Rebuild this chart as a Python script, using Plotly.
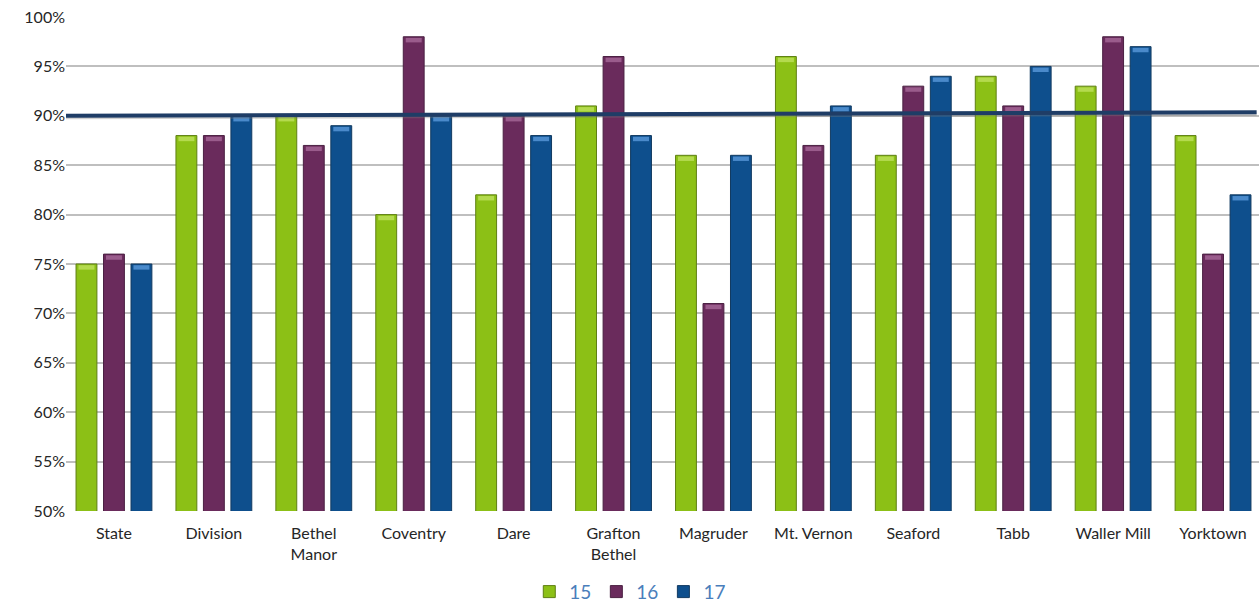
import plotly.graph_objects as go

schools = ["State", "Division", "Bethel<br>Manor", "Coventry", "Dare", "Grafton<br>Bethel",
           "Magruder", "Mt. Vernon", "Seaford", "Tabb", "Waller Mill", "Yorktown"]
year15 = [75, 88, 90, 80, 82, 91, 86, 96, 86, 94, 93, 88]
year16 = [76, 88, 87, 98, 90, 96, 71, 87, 93, 91, 98, 76]
year17 = [75, 90, 89, 90, 88, 88, 86, 91, 94, 95, 97, 82]
series_names = ["15", "16", "17"]
target_start, target_end = 90.0, 90.35
y_ticks = list(range(50, 101, 5))

fills = ["#8CC016", "#6A2B5C", "#0E4F8D"]
edges = ["#5F7F14", "#4A2042", "#123A60"]
caps = ["#B4DA4E", "#9A5C8C", "#4A8ACB"]
cap_height = 0.45

fig = go.Figure()
for i, (name, vals, fc, ec, cc) in enumerate(zip(series_names, [year15, year16, year17],
                                                  fills, edges, caps)):
    group = f"g{i}"
    fig.add_trace(go.Bar(
        x=schools, y=vals, name=name, offsetgroup=group,
        marker=dict(color=fc, line=dict(color=ec, width=1)),
        hoverinfo="skip",
    ))
    # lighter bevel band along the top of each bar
    fig.add_trace(go.Bar(
        x=schools, y=[cap_height] * len(vals), base=[v - cap_height - 0.12 for v in vals],
        offsetgroup=group, showlegend=False, width=0.16,
        marker=dict(color=cc, line=dict(width=0)),
        hoverinfo="skip",
    ))

# target line with a faint shadow beneath it
fig.add_shape(type="line", xref="x domain", yref="y", x0=0.0, x1=0.998,
              y0=target_start - 0.15, y1=target_end - 0.15,
              line=dict(color="rgba(120,120,120,0.35)", width=4), layer="above")
fig.add_shape(type="line", xref="x domain", yref="y", x0=0.0, x1=0.998,
              y0=target_start, y1=target_end,
              line=dict(color="#1F3D66", width=4), layer="above")

fig.update_layout(
    width=1259, height=607,
    margin=dict(l=66, r=0, t=17, b=96, autoexpand=False),
    paper_bgcolor="white", plot_bgcolor="white",
    barmode="group", bargap=0.175, bargroupgap=0.24,
    font=dict(family="Lato, Liberation Sans, sans-serif", size=16, color="#333333"),
    showlegend=True,
    legend=dict(orientation="h", x=0.473, xanchor="center", y=-0.125, yanchor="top",
                font=dict(size=19, color="#4A7EBB"), itemwidth=30,
                traceorder="normal"),
    xaxis=dict(range=[-0.48, 11.46], showgrid=False, ticks="outside", ticklen=8,
               tickcolor="rgba(0,0,0,0)", showline=False,
               tickfont=dict(size=16, color="#262626")),
    yaxis=dict(range=[50, 100], tickvals=y_ticks, ticktext=[f"{t}%" for t in y_ticks],
               showgrid=True, gridcolor="#BFBFBF", gridwidth=1.5, zeroline=False,
               showline=False, ticks="", tickfont=dict(size=16, color="#262626")),
)

fig.write_html("out.html")
